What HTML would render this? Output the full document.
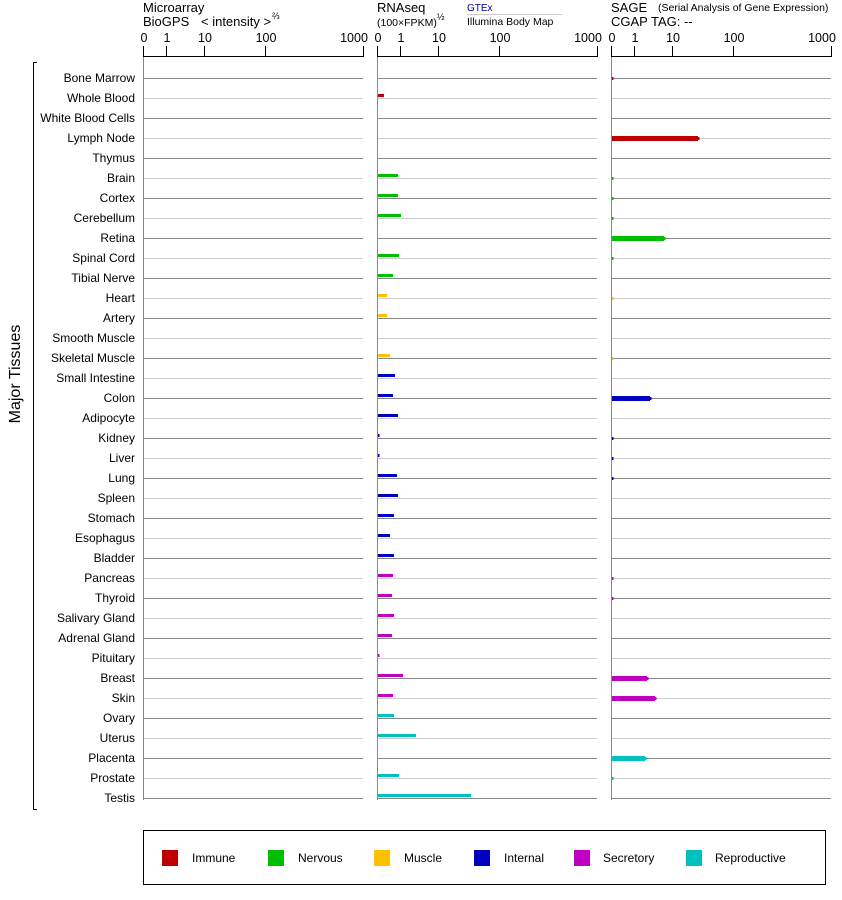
<!DOCTYPE html>
<html><head><meta charset="utf-8"><style>
html,body{margin:0;padding:0;background:#fff;}
svg{display:block;font-family:"Liberation Sans",Arial,sans-serif;}
</style></head><body>
<svg width="842" height="900" viewBox="0 0 842 900" xmlns="http://www.w3.org/2000/svg">
<g font-size="13" fill="#000">
<text x="143" y="12">Microarray</text>
<text x="143" y="26">BioGPS</text>
<text x="201" y="26" font-size="13">&lt; intensity &gt;</text>
<text x="272" y="19" font-size="9">⅔</text>
<text x="377" y="12">RNAseq</text>
<text x="377" y="26" font-size="10.5">(100×FPKM)</text>
<text x="437" y="20" font-size="9">½</text>
<text x="467" y="11" font-size="10" fill="#00009a">GTEx</text>
<line x1="467" y1="14.5" x2="562" y2="14.5" stroke="#ccc"/>
<text x="467" y="25" font-size="10.5">Illumina Body Map</text>
<text x="611" y="12">SAGE</text>
<text x="658" y="11" font-size="10.5">(Serial Analysis of Gene Expression)</text>
<text x="611" y="26">CGAP TAG:  --</text>
</g>
<g stroke="#000" stroke-width="1" fill="none">
<path d="M143.5 56.5H363.5M143.5 46V57M166.5 46V57M204.5 46V57M265.5 46V57M363.5 46V57"/>
<path d="M377.5 56.5H597.5M377.5 46V57M400.5 46V57M438.5 46V57M499.5 46V57M597.5 46V57"/>
<path d="M611.5 56.5H831.5M611.5 46V57M634.5 46V57M672.5 46V57M733.5 46V57M831.5 46V57"/>
</g>
<g font-size="12.5" fill="#000" text-anchor="middle">
<text x="144" y="42">0</text><text x="167" y="42">1</text><text x="205" y="42">10</text><text x="266" y="42">100</text><text x="354" y="42">1000</text>
<text x="378" y="42">0</text><text x="401" y="42">1</text><text x="439" y="42">10</text><text x="500" y="42">100</text><text x="588" y="42">1000</text>
<text x="612" y="42">0</text><text x="635" y="42">1</text><text x="673" y="42">10</text><text x="734" y="42">100</text><text x="822" y="42">1000</text>
</g>
<g stroke-width="1">
<g stroke="#888">
<path d="M143 78.5H363M377 78.5H597M611 78.5H831"/>
<path d="M143 118.5H363M377 118.5H597M611 118.5H831"/>
<path d="M143 158.5H363M377 158.5H597M611 158.5H831"/>
<path d="M143 198.5H363M377 198.5H597M611 198.5H831"/>
<path d="M143 238.5H363M377 238.5H597M611 238.5H831"/>
<path d="M143 278.5H363M377 278.5H597M611 278.5H831"/>
<path d="M143 318.5H363M377 318.5H597M611 318.5H831"/>
<path d="M143 358.5H363M377 358.5H597M611 358.5H831"/>
<path d="M143 398.5H363M377 398.5H597M611 398.5H831"/>
<path d="M143 438.5H363M377 438.5H597M611 438.5H831"/>
<path d="M143 478.5H363M377 478.5H597M611 478.5H831"/>
<path d="M143 518.5H363M377 518.5H597M611 518.5H831"/>
<path d="M143 558.5H363M377 558.5H597M611 558.5H831"/>
<path d="M143 598.5H363M377 598.5H597M611 598.5H831"/>
<path d="M143 638.5H363M377 638.5H597M611 638.5H831"/>
<path d="M143 678.5H363M377 678.5H597M611 678.5H831"/>
<path d="M143 718.5H363M377 718.5H597M611 718.5H831"/>
<path d="M143 758.5H363M377 758.5H597M611 758.5H831"/>
<path d="M143 798.5H363M377 798.5H597M611 798.5H831"/>
</g>
<g stroke="#ccc">
<path d="M143 98.5H363M377 98.5H597M611 98.5H831"/>
<path d="M143 138.5H363M377 138.5H597M611 138.5H831"/>
<path d="M143 178.5H363M377 178.5H597M611 178.5H831"/>
<path d="M143 218.5H363M377 218.5H597M611 218.5H831"/>
<path d="M143 258.5H363M377 258.5H597M611 258.5H831"/>
<path d="M143 298.5H363M377 298.5H597M611 298.5H831"/>
<path d="M143 338.5H363M377 338.5H597M611 338.5H831"/>
<path d="M143 378.5H363M377 378.5H597M611 378.5H831"/>
<path d="M143 418.5H363M377 418.5H597M611 418.5H831"/>
<path d="M143 458.5H363M377 458.5H597M611 458.5H831"/>
<path d="M143 498.5H363M377 498.5H597M611 498.5H831"/>
<path d="M143 538.5H363M377 538.5H597M611 538.5H831"/>
<path d="M143 578.5H363M377 578.5H597M611 578.5H831"/>
<path d="M143 618.5H363M377 618.5H597M611 618.5H831"/>
<path d="M143 658.5H363M377 658.5H597M611 658.5H831"/>
<path d="M143 698.5H363M377 698.5H597M611 698.5H831"/>
<path d="M143 738.5H363M377 738.5H597M611 738.5H831"/>
<path d="M143 778.5H363M377 778.5H597M611 778.5H831"/>
</g>
<path d="M143.5 57V800M377.5 57V800M611.5 57V800" stroke="#888"/>
</g>
<path d="M37 62.5H33.5V809.5H37" stroke="#000" fill="none"/>
<text transform="translate(20,374) rotate(-90)" font-size="16" text-anchor="middle">Major Tissues</text>
<g font-size="12" text-anchor="end" fill="#000">
<text x="135" y="82">Bone Marrow</text>
<text x="135" y="102">Whole Blood</text>
<text x="135" y="122">White Blood Cells</text>
<text x="135" y="142">Lymph Node</text>
<text x="135" y="162">Thymus</text>
<text x="135" y="182">Brain</text>
<text x="135" y="202">Cortex</text>
<text x="135" y="222">Cerebellum</text>
<text x="135" y="242">Retina</text>
<text x="135" y="262">Spinal Cord</text>
<text x="135" y="282">Tibial Nerve</text>
<text x="135" y="302">Heart</text>
<text x="135" y="322">Artery</text>
<text x="135" y="342">Smooth Muscle</text>
<text x="135" y="362">Skeletal Muscle</text>
<text x="135" y="382">Small Intestine</text>
<text x="135" y="402">Colon</text>
<text x="135" y="422">Adipocyte</text>
<text x="135" y="442">Kidney</text>
<text x="135" y="462">Liver</text>
<text x="135" y="482">Lung</text>
<text x="135" y="502">Spleen</text>
<text x="135" y="522">Stomach</text>
<text x="135" y="542">Esophagus</text>
<text x="135" y="562">Bladder</text>
<text x="135" y="582">Pancreas</text>
<text x="135" y="602">Thyroid</text>
<text x="135" y="622">Salivary Gland</text>
<text x="135" y="642">Adrenal Gland</text>
<text x="135" y="662">Pituitary</text>
<text x="135" y="682">Breast</text>
<text x="135" y="702">Skin</text>
<text x="135" y="722">Ovary</text>
<text x="135" y="742">Uterus</text>
<text x="135" y="762">Placenta</text>
<text x="135" y="782">Prostate</text>
<text x="135" y="802">Testis</text>
</g>
<g>
<rect x="378" y="94" width="6" height="3" fill="#c00000"/>
<g fill="#00bf00">
<rect x="378" y="174" width="20" height="3"/>
<rect x="378" y="194" width="20" height="3"/>
<rect x="378" y="214" width="23" height="3"/>
<rect x="378" y="254" width="21" height="3"/>
<rect x="378" y="274" width="15" height="3"/>
</g>
<g fill="#ffc000">
<rect x="378" y="294" width="9" height="3"/>
<rect x="378" y="314" width="9" height="3"/>
<rect x="378" y="354" width="12" height="3"/>
</g>
<g fill="#0000c0">
<rect x="378" y="374" width="17" height="3"/>
<rect x="378" y="394" width="15" height="3"/>
<rect x="378" y="414" width="20" height="3"/>
<rect x="378" y="434" width="1.5" height="3"/>
<rect x="378" y="454" width="1.5" height="3"/>
<rect x="378" y="474" width="19" height="3"/>
<rect x="378" y="494" width="20" height="3"/>
<rect x="378" y="514" width="16" height="3"/>
<rect x="378" y="534" width="12" height="3"/>
<rect x="378" y="554" width="16" height="3"/>
</g>
<g fill="#c000c0">
<rect x="378" y="574" width="15" height="3"/>
<rect x="378" y="594" width="14" height="3"/>
<rect x="378" y="614" width="16" height="3"/>
<rect x="378" y="634" width="14" height="3"/>
<rect x="378" y="654" width="1.5" height="3"/>
<rect x="378" y="674" width="25" height="3"/>
<rect x="378" y="694" width="15" height="3"/>
</g>
<g fill="#00c0c0">
<rect x="378" y="714" width="16" height="3"/>
<rect x="378" y="734" width="38" height="3"/>
<rect x="378" y="774" width="21" height="3"/>
<rect x="378" y="794" width="93" height="3"/>
</g>
</g>
<g>
<rect x="612" y="77" width="1.5" height="3" fill="#c00000"/>
<rect x="612" y="136" width="86" height="5" fill="#c00000"/><rect x="698" y="137" width="1.5" height="3" fill="#c00000"/>
<g fill="#00bf00">
<rect x="612" y="177" width="1.5" height="3"/>
<rect x="612" y="197" width="1.5" height="3"/>
<rect x="612" y="217" width="1.5" height="3"/>
<rect x="612" y="236" width="52" height="5"/><rect x="664" y="237" width="1.5" height="3"/>
<rect x="612" y="257" width="1.5" height="3"/>
</g>
<g fill="#ffc000">
<rect x="612" y="297" width="1.5" height="3"/>
<rect x="612" y="357" width="1.5" height="3"/>
</g>
<g fill="#0000c0">
<rect x="612" y="396" width="38" height="5"/><rect x="650" y="397" width="1.5" height="3"/>
<rect x="612" y="437" width="1.5" height="3"/>
<rect x="612" y="457" width="1.5" height="3"/>
<rect x="612" y="477" width="1.5" height="3"/>
</g>
<g fill="#c000c0">
<rect x="612" y="577" width="1.5" height="3"/>
<rect x="612" y="597" width="1.5" height="3"/>
<rect x="612" y="676" width="35" height="5"/><rect x="647" y="677" width="1.5" height="3"/>
<rect x="612" y="696" width="43" height="5"/><rect x="655" y="697" width="1.5" height="3"/>
</g>
<g fill="#00c0c0">
<rect x="612" y="756" width="33" height="5"/><rect x="645" y="757" width="1.5" height="3"/>
<rect x="612" y="777" width="1.5" height="3"/>
</g>
</g>
<rect x="143.5" y="830.5" width="682" height="54" fill="none" stroke="#000"/>
<rect x="162" y="850" width="16" height="16" fill="#c00000"/>
<rect x="268" y="850" width="16" height="16" fill="#00bf00"/>
<rect x="374" y="850" width="16" height="16" fill="#ffc000"/>
<rect x="474" y="850" width="16" height="16" fill="#0000c0"/>
<rect x="574" y="850" width="16" height="16" fill="#c000c0"/>
<rect x="686" y="850" width="16" height="16" fill="#00c0c0"/>
<g font-size="12" fill="#000">
<text x="192" y="862">Immune</text>
<text x="298" y="862">Nervous</text>
<text x="404" y="862">Muscle</text>
<text x="504" y="862">Internal</text>
<text x="603" y="862">Secretory</text>
<text x="715" y="862">Reproductive</text>
</g>
</svg>
</body></html>
